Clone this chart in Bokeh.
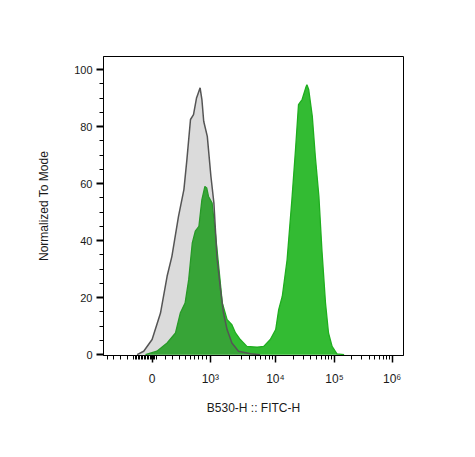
from bokeh.plotting import figure
from bokeh.models import Range1d, FixedTicker
from bokeh.embed import file_html
from bokeh.resources import INLINE
import numpy as np

# x values are in display (logicle) units: 0 -> "0", ~1 -> 10^3, ~2 -> 10^4 ...
gray_x = [-0.25, -0.14, 0.0, 0.14, 0.25, 0.33, 0.44, 0.53, 0.58, 0.64, 0.69, 0.74,
          0.76, 0.80, 0.83, 0.86, 0.92, 0.98, 1.03, 1.08, 1.14, 1.19, 1.25, 1.33,
          1.44, 1.64, 1.80]
gray_y = [0, 1.2, 5.3, 14.6, 27.5, 34.5, 48.5, 57.9, 68.4, 82.5, 84.2, 90,
          91.2, 93.6, 89.5, 81.9, 76.6, 62.6, 53.2, 34.5, 22.8, 14.6, 8.8, 4.1,
          1.2, 0.3, 0]

green_x = [-0.11, 0.08, 0.25, 0.39, 0.47, 0.55, 0.61, 0.67, 0.72, 0.78, 0.83, 0.88,
           0.91, 0.94, 1.0, 1.06, 1.11, 1.17, 1.25, 1.33, 1.39, 1.47, 1.58, 1.75,
           1.86, 1.97, 2.06, 2.11, 2.17, 2.25, 2.33, 2.39, 2.44, 2.5, 2.56, 2.58,
           2.61, 2.67, 2.72, 2.78, 2.83, 2.89, 2.94, 3.0, 3.08, 3.2]
green_y = [0, 1.2, 4.1, 7.6, 14.6, 18.1, 26.3, 39.2, 43.3, 45, 54.4, 59,
           58.5, 55.5, 53.2, 41.5, 31, 18.1, 12.3, 10.5, 7.6, 5.3, 2.9, 2.6,
           2.9, 5.3, 8.8, 15.8, 20.5, 33.3, 54.4, 71.9, 87.7, 89.5, 93.6, 94.7,
           93, 83.6, 69.6, 55.5, 36.8, 18.1, 7.6, 2.9, 0.3, 0]

x_major_ticks = [0.0, 0.97, 2.055, 3.04, 4.0]
x_tick_labels = ["0", "10³", "10⁴", "10⁵", "10⁶"]
x_minor_low = [-0.745, -0.645, -0.53, -0.41,
               -0.31, -0.285, -0.26, -0.235, -0.21, -0.185, -0.16, -0.135, -0.11,
               -0.085, -0.06, -0.035, -0.01, 0.015, 0.04, 0.065,
               0.22, 0.34, 0.455, 0.555, 0.64, 0.705, 0.77, 0.84, 0.905]

y_major_ticks = [0, 20, 40, 60, 80, 100]
y_minor_ticks = [5, 10, 15, 25, 30, 35, 45, 50, 55, 65, 70, 75, 85, 90, 95]

# minor ticks in the log decades
x_minor = list(x_minor_low)
for a, b in zip(x_major_ticks[1:-1], x_major_ticks[2:]):
    for m in range(2, 10):
        x_minor.append(a + (b - a) * np.log10(m))

FONT = "Liberation Sans"
TXT = "#1a1a1a"

p = figure(width=459, height=441, output_backend="svg", toolbar_location=None,
           x_range=Range1d(-0.81, 4.19), y_range=Range1d(-0.3, 104.6),
           min_border_left=103, min_border_right=56, min_border_top=56,
           min_border_bottom=86)
p.grid.visible = False
p.outline_line_color = "black"
p.outline_line_width = 1

# stained sample (green)
p.varea(x=green_x, y1=0, y2=green_y, fill_color="#33bb33")
p.line(green_x, green_y, line_color="#1fae1f", line_width=1.3)
# unstained control (translucent gray over)
p.varea(x=gray_x, y1=0, y2=gray_y, fill_color="#4a4a4a", fill_alpha=0.2)
p.line(gray_x, gray_y, line_color="#555555", line_width=1.5)

xa = p.xaxis[0]
xa.ticker = FixedTicker(ticks=x_major_ticks, minor_ticks=x_minor)
xa.major_label_overrides = dict(zip(x_major_ticks, x_tick_labels))
xa.major_label_text_font = FONT
xa.major_label_text_font_size = "12px"
xa.major_label_text_color = TXT
xa.major_label_standoff = 9
xa.major_tick_out = 7
xa.major_tick_in = 0
xa.minor_tick_out = 4
xa.minor_tick_in = 0
xa.major_tick_line_width = 1.5
xa.axis_line_color = "black"
xa.axis_label = "B530-H :: FITC-H"
xa.axis_label_text_font = FONT
xa.axis_label_text_font_size = "12px"
xa.axis_label_text_font_style = "normal"
xa.axis_label_text_color = TXT
xa.axis_label_standoff = 12

ya = p.yaxis[0]
ya.ticker = FixedTicker(ticks=y_major_ticks, minor_ticks=y_minor_ticks)
ya.major_label_text_font = FONT
ya.major_label_text_font_size = "11px"
ya.major_label_text_color = TXT
ya.major_label_standoff = 4
ya.major_tick_out = 7
ya.major_tick_in = 0
ya.minor_tick_out = 4
ya.minor_tick_in = 0
ya.major_tick_line_width = 2
ya.axis_line_color = "black"
ya.axis_label = "Normalized To Mode"
ya.axis_label_text_font = FONT
ya.axis_label_text_font_size = "12px"
ya.axis_label_text_font_style = "normal"
ya.axis_label_text_color = TXT
ya.axis_label_standoff = 20

open("out.html", "w").write(file_html(p, INLINE))
